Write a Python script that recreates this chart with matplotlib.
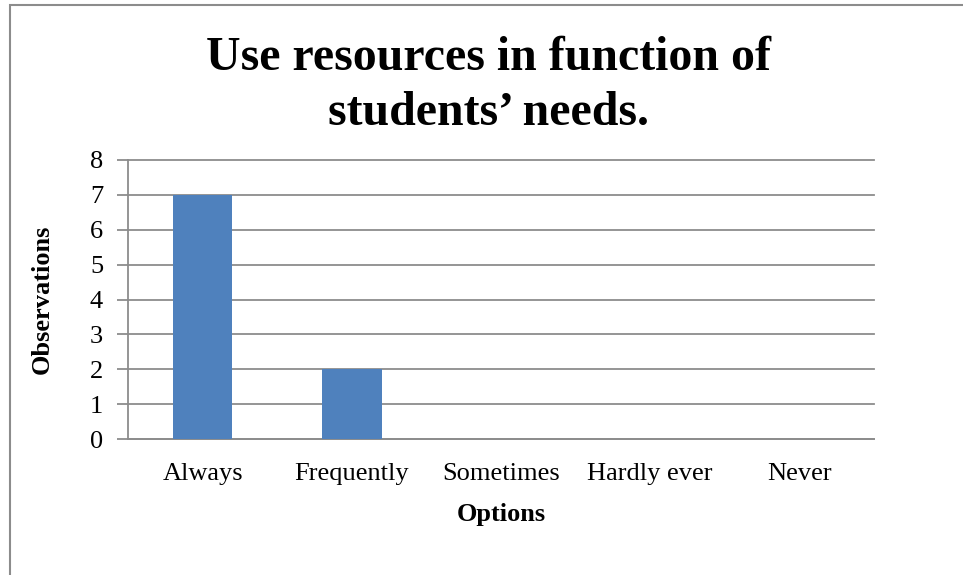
import matplotlib.pyplot as plt
from matplotlib.patches import Rectangle

plt.rcParams['font.family'] = ['Liberation Serif', 'DejaVu Serif']

# Data
options = ['Always', 'Frequently', 'Sometimes', 'Hardly ever', 'Never']
observations = [7, 2, 0, 0, 0]
yticks = [0, 1, 2, 3, 4, 5, 6, 7, 8]

fig = plt.figure(figsize=(9.63, 5.75), dpi=100)
W, H = 963, 575

# outer chart border (right and bottom are cut off in the original)
fig.patches.append(Rectangle((10 / W, -0.1), 1.2, 1 - 5 / H + 0.1,
                             transform=fig.transFigure, fill=False,
                             edgecolor='#8c8c8c', linewidth=1.5))

ax = fig.add_axes([128 / W, 1 - 439 / H, (874 - 128) / W, (439 - 160) / H])
x = range(len(options))
ax.bar(x, observations, width=0.4, color='#4f81bd', zorder=3)

ax.set_xlim(-0.5, len(options) - 0.5)
ax.set_ylim(0, 8)
ax.set_yticks(yticks)
ax.set_xticks(list(x))
ax.set_xticklabels(options, fontsize=19)
ax.tick_params(axis='y', labelsize=19, length=8, color='#8c8c8c', width=1.3, pad=10)
ax.tick_params(axis='x', length=0, pad=17)
ax.grid(axis='y', color='#8c8c8c', linewidth=1.3, zorder=0)
# keep the top gridline from being clipped at the axes edge
for gl in ax.get_ygridlines():
    gl.set_clip_on(False)

for s in ['top', 'right']:
    ax.spines[s].set_visible(False)
ax.spines['left'].set_color('#8c8c8c')
ax.spines['left'].set_linewidth(1.3)
ax.spines['bottom'].set_color('#8c8c8c')
ax.spines['bottom'].set_linewidth(1.3)

ax.set_xlabel('Options', fontsize=19, fontweight='bold', labelpad=13)
ax.set_ylabel('Observations', fontsize=19, fontweight='bold', labelpad=26)

fig.text(489 / W, 1 - 70 / H, 'Use resources in function of',
         ha='center', va='baseline', fontsize=34.5, fontweight='bold')
fig.text(489 / W, 1 - 125 / H, 'students\u2019 needs.',
         ha='center', va='baseline', fontsize=34.5, fontweight='bold')

fig.savefig('out.png', dpi=100)
